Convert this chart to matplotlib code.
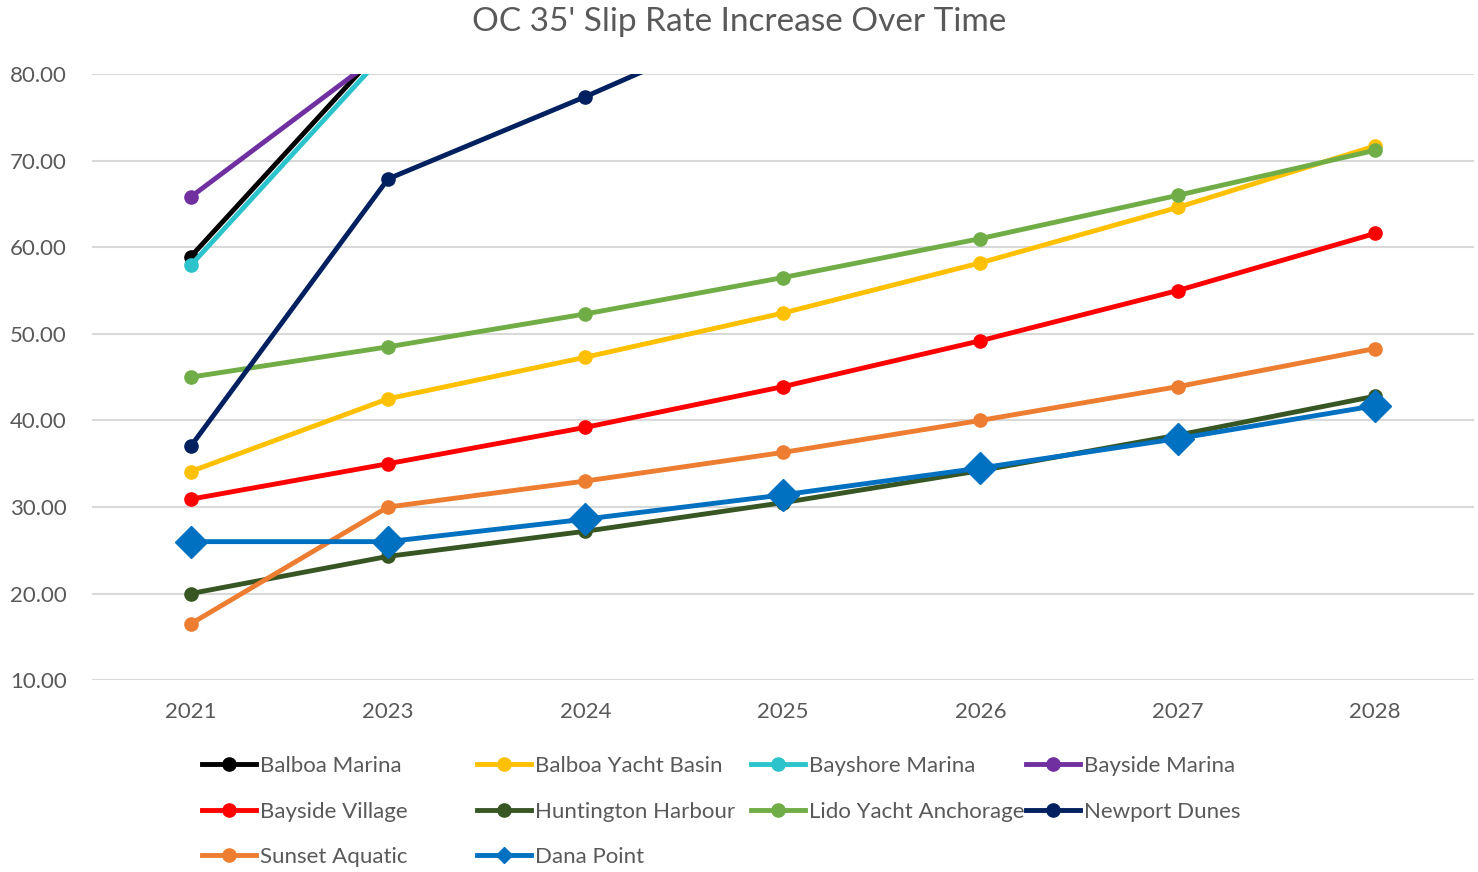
import matplotlib.pyplot as plt

plt.rcParams['font.family'] = ['Lato', 'DejaVu Sans']

years = ['2021', '2023', '2024', '2025', '2026', '2027', '2028']

# values above 80 are clipped in the original, so those are rough estimates
balboa_marina = [58.9, 83.8, 88.0, 92.5, 97.0, 102.0, 107.0]
balboa_yacht_basin = [34.1, 42.5, 47.3, 52.4, 58.2, 64.6, 71.7]
bayshore_marina = [57.9, 82.8, 87.0, 91.5, 96.0, 101.0, 106.0]
bayside_marina = [65.8, 82.9, 87.0, 91.5, 96.0, 101.0, 106.0]
bayside_village = [30.9, 35.0, 39.2, 43.9, 49.2, 55.0, 61.6]
huntington_harbour = [20.0, 24.3, 27.2, 30.5, 34.2, 38.3, 42.8]
lido_yacht_anchorage = [45.0, 48.5, 52.3, 56.5, 61.0, 66.0, 71.2]
newport_dunes = [37.0, 67.9, 77.4, 87.4, 93.0, 99.0, 105.0]
sunset_aquatic = [16.5, 30.0, 33.0, 36.3, 40.0, 43.9, 48.3]
dana_point = [26.0, 26.0, 28.6, 31.4, 34.5, 37.9, 41.7]

series = [
    ('Balboa Marina', balboa_marina, '#000000', 'o'),
    ('Balboa Yacht Basin', balboa_yacht_basin, '#FFC000', 'o'),
    ('Bayshore Marina', bayshore_marina, '#2CC4CC', 'o'),
    ('Bayside Marina', bayside_marina, '#7030A0', 'o'),
    ('Bayside Village', bayside_village, '#FF0000', 'o'),
    ('Huntington Harbour', huntington_harbour, '#375623', 'o'),
    ('Lido Yacht Anchorage', lido_yacht_anchorage, '#70AD47', 'o'),
    ('Newport Dunes', newport_dunes, '#002060', 'o'),
    ('Sunset Aquatic', sunset_aquatic, '#ED7D31', 'o'),
    ('Dana Point', dana_point, '#0070C0', 'D'),
]

fig = plt.figure(figsize=(14.78, 8.72), dpi=100)
ax = fig.add_axes([0.0622, 0.22, 0.935, 0.695])

x = list(range(len(years)))
for name, vals, color, mk in series:
    ms = 16 if mk == 'D' else 9.5
    ax.plot(x, vals, color=color, lw=3.5, marker=mk, ms=ms,
            label=name, solid_capstyle='round')

ax.set_xlim(-0.5, len(years) - 0.5)
ax.set_ylim(10, 80)
ax.set_yticks(range(10, 81, 10))
ax.set_yticklabels([f'{v:.2f}' for v in range(10, 81, 10)])
ax.set_xticks(x)
ax.set_xticklabels(years)
ax.yaxis.grid(True, color='#D9D9D9', lw=1.5)
ax.set_axisbelow(True)
for s in ax.spines.values():
    s.set_visible(False)
ax.tick_params(axis='both', length=0, labelsize=16, colors='#595959')
ax.tick_params(axis='x', pad=16)
ax.tick_params(axis='y', pad=18)

fig.text(0.5, 0.975, "OC 35' Slip Rate Increase Over Time", ha='center', va='center',
         fontsize=24, color='#595959')

# legend, one block per column so columns are evenly spaced like Excel
cols = [[0, 4, 8], [1, 5, 9], [2, 6], [3, 7]]
col_x = [202, 477, 751, 1026]
for idx, cx in zip(cols, col_x):
    hs = []
    for i in idx:
        name, vals, color, mk = series[i]
        ms = 8 if mk == 'D' else 9.5
        hs.append(plt.Line2D([], [], color=color, lw=3.5, marker=mk, ms=ms))
    fig.legend(hs, [series[i][0] for i in idx], loc='upper left',
               bbox_to_anchor=(cx / 1478, 1 - 756 / 872), frameon=False,
               fontsize=16, labelcolor='#595959', handlelength=2.45,
               handletextpad=0.15, labelspacing=1.15, borderpad=0,
               borderaxespad=0)

fig.savefig('out.png', dpi=100)
